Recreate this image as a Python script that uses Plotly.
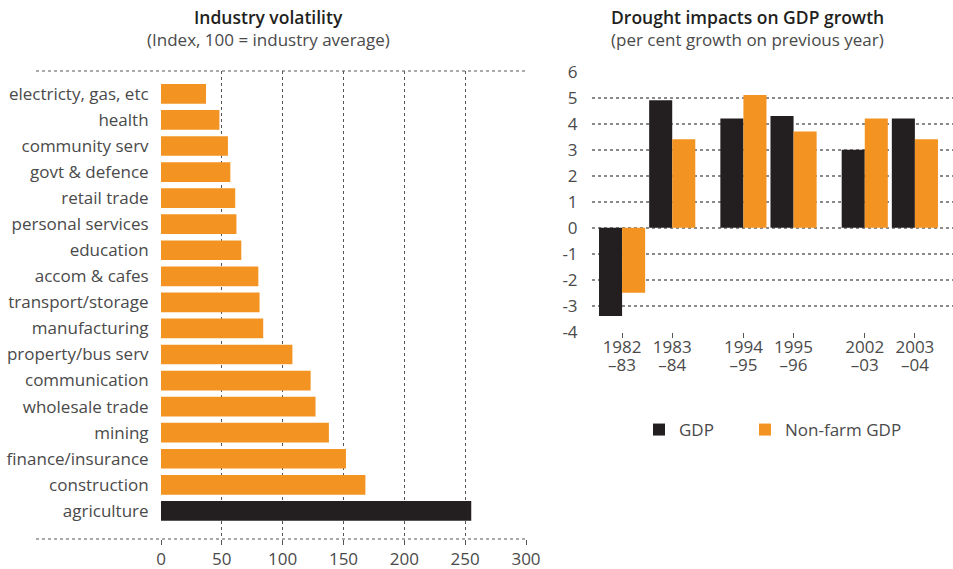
import plotly.graph_objects as go

# Industry volatility index (100 = industry average), listed top to bottom
industries = [
    "electricty, gas, etc", "health", "community serv", "govt & defence",
    "retail trade", "personal services", "education", "accom & cafes",
    "transport/storage", "manufacturing", "property/bus serv", "communication",
    "wholesale trade", "mining", "finance/insurance", "construction", "agriculture",
]
volatility = [37, 48, 55, 57, 61, 62, 66, 80, 81, 84, 108, 123, 127, 138, 152, 168, 255]
volatility_ticks = [0, 50, 100, 150, 200, 250, 300]

# Drought impacts on GDP growth (per cent growth on previous year)
year_start = ["1982", "1983", "1994", "1995", "2002", "2003"]
year_end = ["–83", "–84", "–95", "–96", "–03", "–04"]
drought_episode = [0, 0, 1, 1, 2, 2]
gdp = [-3.4, 4.9, 4.2, 4.3, 3.0, 4.2]
nonfarm_gdp = [-2.5, 3.4, 5.1, 3.7, 4.2, 3.4]
growth_ticks = [-4, -3, -2, -1, 0, 1, 2, 3, 4, 5, 6]
growth_tick_labels = ["-4", "-3", "-2", "-1", "0", "1", "2", "3", "4", "5", "6"]

ORANGE = "#F39322"
BLACK = "#231F20"
TEXT = "#4a4a4a"
GRID = "#555555"
FONT = "Open Sans"

W, H = 953, 569

# episodes are separated by an extra gap on the numeric x axis
EPISODE_GAP = 0.42
drought_x = [i + e * EPISODE_GAP for i, e in enumerate(drought_episode)]
DROUGHT_RANGE = [-0.6, 6.6]

fig = go.Figure()

fig.add_trace(go.Bar(
    y=industries, x=volatility, orientation="h", width=0.756,
    marker=dict(color=[BLACK if n == "agriculture" else ORANGE for n in industries], line_width=0),
    xaxis="x", yaxis="y", showlegend=False, hoverinfo="x+y",
))

fig.add_trace(go.Bar(
    x=drought_x, y=gdp, name="GDP", marker=dict(color=BLACK, line_width=0),
    xaxis="x2", yaxis="y2", legendwidth=61,
))
fig.add_trace(go.Bar(
    x=drought_x, y=nonfarm_gdp, name="Non-farm GDP", marker=dict(color=ORANGE, line_width=0),
    xaxis="x2", yaxis="y2", legendwidth=130,
))
# invisible carrier for the second line of the year labels
fig.add_trace(go.Scatter(
    x=drought_x, y=[0] * len(drought_x), mode="markers", marker=dict(opacity=0),
    xaxis="x3", yaxis="y2", showlegend=False, hoverinfo="skip",
))


# pixel -> paper helpers for the layout
def px(x):
    return x / W


def py(y):
    return 1 - y / H


left_x0, left_x1 = px(161), px(526)
left_y0, left_y1 = py(539), py(71)
right_x0, right_x1 = px(592), 1.0
right_y0, right_y1 = py(331.7), py(71.7)

fig.update_layout(
    width=W, height=H,
    margin=dict(l=0, r=0, t=0, b=0, autoexpand=False),
    paper_bgcolor="white", plot_bgcolor="white",
    font=dict(family=FONT, size=16, color=TEXT),
    barmode="group", bargap=0.08, bargroupgap=0,
    showlegend=True,
    legend=dict(
        orientation="h", x=px(639), xanchor="left", y=py(430), yanchor="middle",
        font=dict(size=17, color=TEXT), itemwidth=30,
        bgcolor="rgba(0,0,0,0)",
    ),
    xaxis=dict(
        domain=[left_x0, left_x1], range=[0, 300], tickvals=volatility_ticks,
        showgrid=True, gridcolor=GRID, griddash="dot", gridwidth=1,
        zeroline=False, showline=False, automargin=False,
        ticks="outside", ticklen=5, tickcolor=GRID, tickwidth=1,
        tickfont=dict(size=17, color=TEXT), anchor="y",
    ),
    yaxis=dict(
        domain=[left_y0, left_y1], type="category",
        categoryorder="array", categoryarray=industries,
        range=[17.08, -0.877], showgrid=False, zeroline=False, showline=False,
        automargin=False,
        ticks="outside", ticklen=8, tickcolor="rgba(0,0,0,0)",
        tickfont=dict(size=17, color=TEXT), anchor="x",
    ),
    xaxis2=dict(
        domain=[right_x0, right_x1], range=DROUGHT_RANGE,
        tickvals=drought_x, ticktext=year_start,
        showgrid=False, zeroline=False, showline=False, automargin=False,
        ticks="outside", ticklen=5, tickcolor=GRID, tickwidth=1,
        ticklabelstandoff=-5,
        tickfont=dict(size=17, color=TEXT), anchor="y2",
    ),
    xaxis3=dict(
        domain=[right_x0, right_x1], range=DROUGHT_RANGE, overlaying="x2",
        anchor="free", position=py(353),
        tickvals=drought_x, ticktext=year_end, ticks="",
        showgrid=False, zeroline=False, showline=False, automargin=False,
        tickfont=dict(size=17, color=TEXT), side="bottom",
    ),
    yaxis2=dict(
        domain=[right_y0, right_y1], range=[-4, 6],
        tickvals=growth_ticks, ticktext=growth_tick_labels,
        showgrid=True, gridcolor="#8a8a8a", griddash="dot", gridwidth=1.5,
        zeroline=False, showline=False, automargin=False,
        ticks="outside", ticklen=10, tickcolor="rgba(0,0,0,0)",
        tickfont=dict(size=17, color=TEXT), anchor="x2",
    ),
)

# top and bottom frame lines of the volatility panel
for yy in (left_y0, left_y1):
    fig.add_shape(type="line", xref="paper", yref="paper",
                  x0=px(36), x1=left_x1, y0=yy, y1=yy,
                  line=dict(color=GRID, width=1, dash="dot"), layer="below")

titles = [
    (px(268), "Industry volatility", "(Index, 100 = industry average)"),
    (px(747), "Drought impacts on GDP growth", "(per cent growth on previous year)"),
]
for cx, head, sub in titles:
    fig.add_annotation(x=cx, y=py(17), xref="paper", yref="paper", text=head,
                       showarrow=False, xanchor="center", yanchor="middle",
                       font=dict(size=17.5, color=BLACK, family=FONT, weight=600))
    fig.add_annotation(x=cx, y=py(39), xref="paper", yref="paper", text=sub,
                       showarrow=False, xanchor="center", yanchor="middle",
                       font=dict(size=17, color=TEXT, family=FONT))

fig.write_html("out.html")
